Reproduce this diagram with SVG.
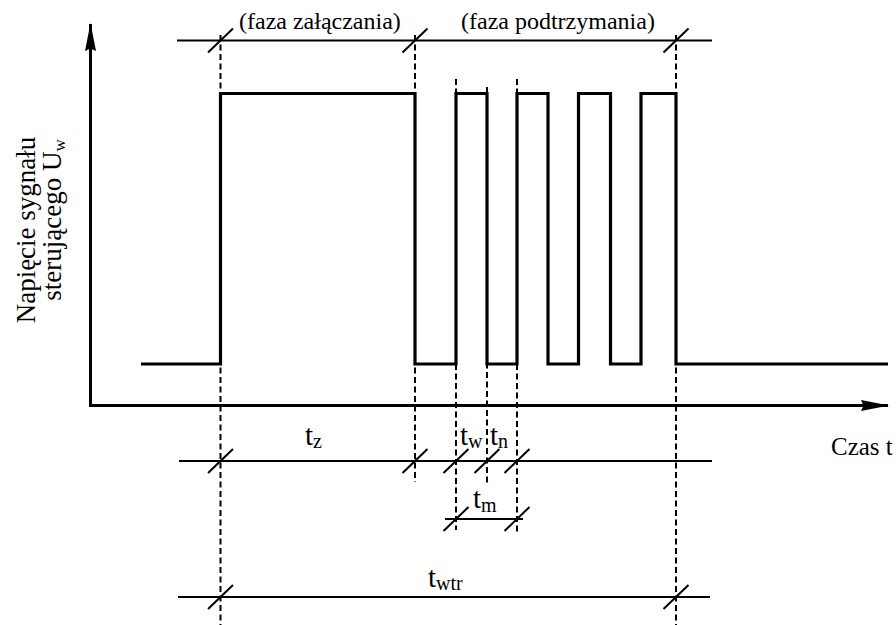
<svg xmlns="http://www.w3.org/2000/svg" xmlns:xlink="http://www.w3.org/1999/xlink" width="896" height="625" viewBox="0 0 896 625">
  <style>
    .axis { stroke: #000; stroke-width: 3; fill: none; }
    .signal { stroke: #000; stroke-width: 3.2; fill: none; stroke-linejoin: miter; }
    .dim { stroke: #000; stroke-width: 2; fill: none; }
    .guide { stroke: #000; stroke-width: 2; fill: none; stroke-dasharray: 6 3.5; }
    .tick { stroke: #000; stroke-width: 2; }
    text { font-family: "Liberation Serif", "Times New Roman", serif; fill: #000; }
    .phase { font-size: 24px; }
    .ylab { font-size: 27px; }
    .tl { font-size: 29px; }
    .sub { font-size: 20px; }
    .tlab { font-size: 25px; }
  </style>
  <defs>
    <marker id="arrow" markerUnits="userSpaceOnUse" viewBox="0 0 28 12" refX="27" refY="6" markerWidth="28" markerHeight="12" orient="auto">
      <path d="M0,0.5 L28,6 L0,11.5 L2.5,6 Z" fill="#000"/>
    </marker>
    <path id="tk" class="tick" d="M-12.5,12 L12.5,-12"/>
  </defs>

  <!-- axes -->
  <g id="axes">
    <path class="axis" d="M90.5,406 V24" marker-end="url(#arrow)"/>
    <path class="axis" d="M89,405.5 H888" marker-end="url(#arrow)"/>
  </g>

  <!-- control signal waveform -->
  <g id="signal">
    <path class="signal" d="M141,364 H220.5 V93.5 H415 V364 H456 V93.5 H487 V364 H517 V93.5 H548 V364 H578.5 V93.5 H610.5 V364 H641 V93.5 H676 V364 H888"/>
  </g>

  <!-- dashed guide lines -->
  <g id="guides">
    <path class="guide" d="M220.5,35 V625"/>
    <path class="guide" d="M415,35 V482"/>
    <path class="guide" d="M676,35 V625"/>
    <path class="guide" d="M456,79 V530"/>
    <path class="guide" d="M487,87 V484"/>
    <path class="guide" d="M517,79 V533"/>
  </g>

  <!-- dimension lines with ticks -->
  <g id="dimensions">
    <path class="dim" d="M177,40.5 H712"/>
    <use xlink:href="#tk" x="220.5" y="40.5"/>
    <use xlink:href="#tk" x="415" y="40.5"/>
    <use xlink:href="#tk" x="676" y="40.5"/>

    <path class="dim" d="M179,461 H712"/>
    <use xlink:href="#tk" x="220.5" y="461"/>
    <use xlink:href="#tk" x="415" y="461"/>
    <use xlink:href="#tk" x="456" y="461"/>
    <use xlink:href="#tk" x="487" y="461"/>
    <use xlink:href="#tk" x="517" y="461"/>

    <path class="dim" d="M445,519 H523"/>
    <use xlink:href="#tk" x="456" y="519"/>
    <use xlink:href="#tk" x="517" y="519"/>

    <path class="dim" d="M178,597 H710"/>
    <use xlink:href="#tk" x="220.5" y="597"/>
    <use xlink:href="#tk" x="676" y="597"/>
  </g>

  <!-- labels -->
  <g id="labels">
    <text class="phase" x="239" y="29">(faza załączania)</text>
    <text class="phase" x="461" y="29">(faza podtrzymania)</text>

    <g transform="translate(35,230) rotate(-90)">
      <text class="ylab" x="0" y="0" text-anchor="middle">Napięcie sygnału</text>
    </g>
    <g transform="translate(61,220) rotate(-90)">
      <text class="ylab" x="0" y="0" text-anchor="middle">sterującego U<tspan font-size="17" dy="4">w</tspan></text>
    </g>

    <text class="tlab" x="831" y="455">Czas t</text>

    <text class="tl" x="305" y="445">t<tspan class="sub" dy="3">z</tspan></text>
    <text class="tl" x="460" y="445">t<tspan class="sub" dy="3">w</tspan></text>
    <text class="tl" x="490" y="445">t<tspan class="sub" dy="3">n</tspan></text>
    <text class="tl" x="473" y="508">t<tspan class="sub" dy="4">m</tspan></text>
    <text class="tl" x="428" y="587">t<tspan class="sub" dy="3">wtr</tspan></text>
  </g>
</svg>
